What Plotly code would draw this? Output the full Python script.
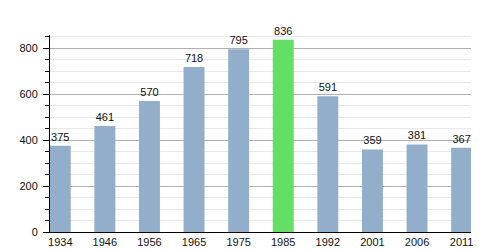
import plotly.graph_objects as go

years = ["1934", "1946", "1956", "1965", "1975", "1985", "1992", "2001", "2006", "2011"]
population = [375, 461, 570, 718, 795, 836, 591, 359, 381, 367]
highlight_year = "1985"

base_color = "#93aecb"
hi_color = "#63e063"
colors = [hi_color if y == highlight_year else base_color for y in years]

fig = go.Figure(
    go.Bar(
        x=years,
        y=population,
        marker=dict(color=colors, line=dict(width=0)),
        width=0.47,
        text=[str(v) for v in population],
        textposition="outside",
        textfont=dict(family="Liberation Sans, Arial, sans-serif", size=11, color="#111"),
        cliponaxis=False,
    )
)

fig.update_layout(
    width=500,
    height=250,
    margin=dict(l=50, r=29, t=35, b=18),
    paper_bgcolor="white",
    plot_bgcolor="white",
    showlegend=False,
    font=dict(family="Liberation Sans, Arial, sans-serif", size=11, color="#222"),
    bargap=0.5,
)

fig.update_xaxes(
    type="category",
    range=[-0.23, 9.21],
    automargin=False,
    showline=True,
    linecolor="black",
    linewidth=1,
    ticks="",
    showgrid=False,
    tickfont=dict(size=11, color="#111"),
)

fig.update_yaxes(
    range=[0, 857],
    dtick=200,
    automargin=False,
    showline=True,
    linecolor="black",
    linewidth=1,
    ticks="outside",
    ticklen=6,
    tickcolor="black",
    ticklabelstandoff=3,
    showgrid=True,
    gridcolor="#b0b0b0",
    gridwidth=1,
    zeroline=False,
    tickfont=dict(size=11, color="#111"),
    minor=dict(
        dtick=50,
        ticks="outside",
        ticklen=4,
        tickcolor="black",
        showgrid=True,
        gridcolor="#e8e8e8",
        gridwidth=1,
    ),
)

fig.write_html("out.html")
